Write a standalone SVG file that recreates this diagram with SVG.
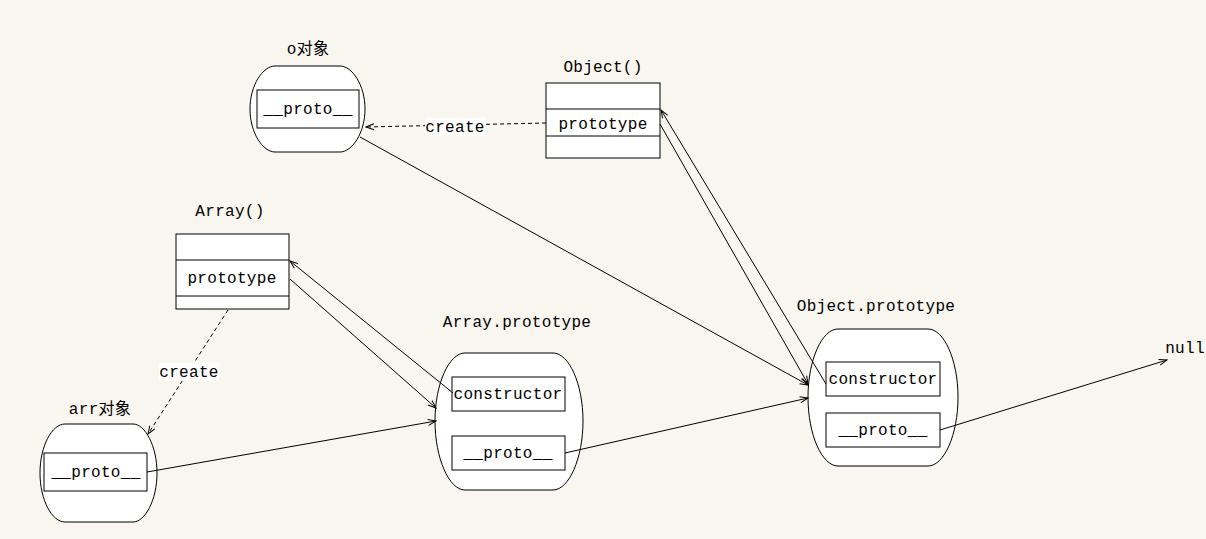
<svg xmlns="http://www.w3.org/2000/svg" width="1206" height="539" viewBox="0 0 1206 539">
<defs>
<style>
.bg{fill:#f9f6ef}
.blob,.box{fill:#fff;stroke:#000;stroke-width:1}
.t{font-family:"Liberation Mono","Noto Sans CJK SC",monospace;font-size:16px;fill:#000;text-anchor:middle;dominant-baseline:central;letter-spacing:0.3px}
.ln{fill:none;stroke:#000;stroke-width:1}
.dash{fill:none;stroke:#000;stroke-width:1;stroke-dasharray:4 3}
.lblbg{fill:#fff}
</style>
<marker id="ah" markerWidth="10" markerHeight="8" refX="9" refY="4" orient="auto" markerUnits="userSpaceOnUse">
<path d="M1,1 L9,4 L1,7" fill="none" stroke="#000" stroke-width="1"/>
</marker>
</defs>
<rect class="bg" x="0" y="0" width="1206" height="539"/>

<g id="o-obj">
<text class="t" x="308" y="50">o对象</text>
<path class="blob" d="M275,66 H340 C352,66 365,85 365,109 C365,133 352,152 340,152 H275 C263,152 250,133 250,109 C250,85 263,66 275,66 Z"/>
<rect class="box" x="257" y="90" width="102" height="38"/>
<text class="t" x="308" y="110">__proto__</text>
</g>

<g id="Object-fn">
<text class="t" x="603" y="68">Object()</text>
<rect class="box" x="546" y="83" width="114" height="75"/>
<line class="ln" x1="546" y1="109" x2="660" y2="109"/>
<line class="ln" x1="546" y1="136" x2="660" y2="136"/>
<text class="t" x="603" y="125">prototype</text>
</g>

<g id="Array-fn">
<text class="t" x="230" y="212">Array()</text>
<rect class="box" x="176" y="234" width="113" height="75"/>
<line class="ln" x1="176" y1="260" x2="289" y2="260"/>
<line class="ln" x1="176" y1="296" x2="289" y2="296"/>
<text class="t" x="232" y="279">prototype</text>
</g>

<g id="arr-obj">
<text class="t" x="100" y="410">arr对象</text>
<path class="blob" d="M65,424 H133 C145,424 157,446 157,473 C157,500 145,522 133,522 H65 C52,522 40,500 40,473 C40,446 52,424 65,424 Z"/>
<rect class="box" x="44" y="453" width="103" height="38"/>
<text class="t" x="96" y="473">__proto__</text>
</g>

<g id="Array-prototype">
<text class="t" x="517" y="323">Array.prototype</text>
<path class="blob" d="M465,353 H553 C569,353 583,384 583,421 C583,458 569,490 553,490 H465 C449,490 435,458 435,421 C435,384 449,353 465,353 Z"/>
<rect class="box" x="452" y="377" width="113" height="34"/>
<text class="t" x="508" y="395">constructor</text>
<rect class="box" x="452" y="436" width="113" height="34"/>
<text class="t" x="508" y="454">__proto__</text>
</g>

<g id="Object-prototype">
<text class="t" x="876" y="307">Object.prototype</text>
<path class="blob" d="M838,329 H928 C944,329 958,360 958,397 C958,435 944,466 928,466 H838 C822,466 808,435 808,397 C808,360 822,329 838,329 Z"/>
<rect class="box" x="826" y="362" width="114" height="34"/>
<text class="t" x="883" y="380">constructor</text>
<rect class="box" x="826" y="413" width="114" height="34"/>
<text class="t" x="883" y="431">__proto__</text>
</g>

<g id="null">
<text class="t" x="1185" y="349">null</text>
</g>

<g id="connectors">
<line class="dash" x1="546" y1="123" x2="366" y2="127" marker-end="url(#ah)"/>
<rect class="lblbg" x="425" y="118" width="61" height="18"/>
<text class="t" x="455" y="128">create</text>

<line class="dash" x1="228" y1="310" x2="148" y2="434" marker-end="url(#ah)"/>
<rect class="lblbg" x="159" y="363" width="60" height="18"/>
<text class="t" x="189" y="373">create</text>

<line class="ln" x1="360" y1="137" x2="808" y2="385" marker-end="url(#ah)"/>
<line class="ln" x1="660" y1="124" x2="808" y2="384" marker-end="url(#ah)"/>
<line class="ln" x1="826" y1="384" x2="661" y2="110" marker-end="url(#ah)"/>

<line class="ln" x1="290" y1="279" x2="436" y2="408" marker-end="url(#ah)"/>
<line class="ln" x1="453" y1="393" x2="290" y2="261" marker-end="url(#ah)"/>

<line class="ln" x1="147" y1="472" x2="436" y2="421" marker-end="url(#ah)"/>
<line class="ln" x1="565" y1="453" x2="808" y2="398" marker-end="url(#ah)"/>
<line class="ln" x1="940" y1="430" x2="1167" y2="360" marker-end="url(#ah)"/>
</g>
</svg>
